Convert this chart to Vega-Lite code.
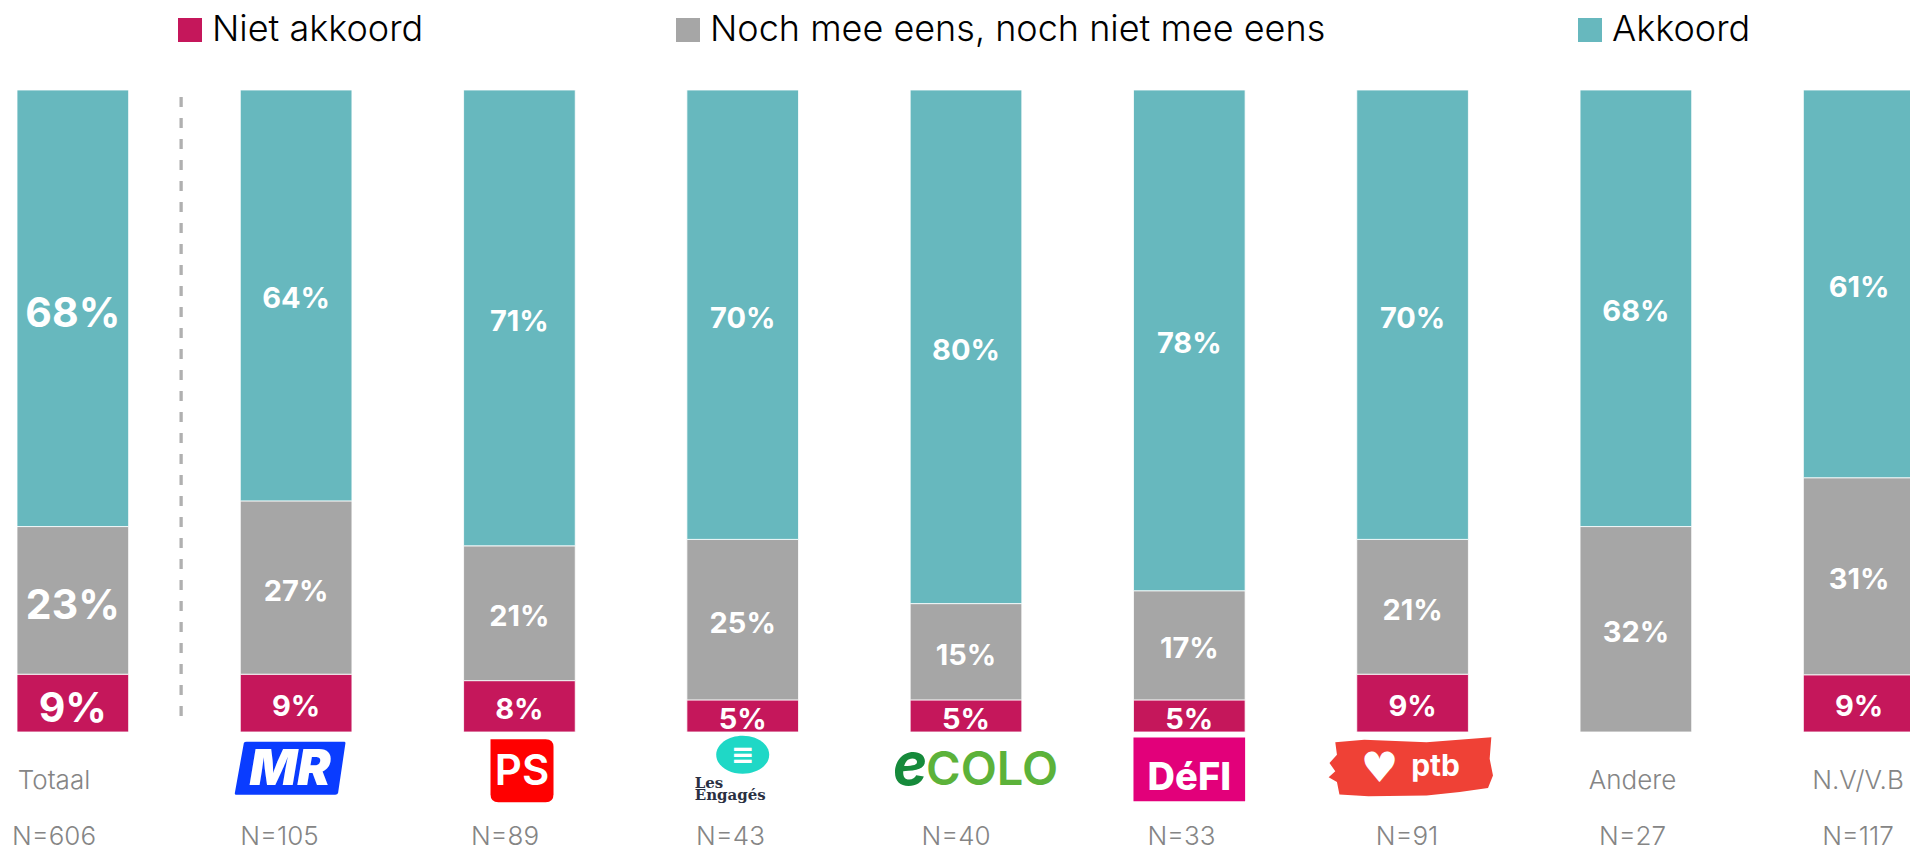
{
  "$schema": "https://vega.github.io/schema/vega-lite/v6.json",
  "width": 1910,
  "height": 848,
  "autosize": {"type": "none"},
  "padding": 0,
  "background": "white",
  "config": {"view": {"stroke": null}},
  "datasets": {
    "seg": [
      {"group": "Totaal", "cat": "Niet akkoord", "rank": 1, "value": 0.09},
      {"group": "Totaal", "cat": "Noch mee eens, noch niet mee eens", "rank": 2, "value": 0.23},
      {"group": "Totaal", "cat": "Akkoord", "rank": 3, "value": 0.68},
      {"group": "MR", "cat": "Niet akkoord", "rank": 1, "value": 0.09},
      {"group": "MR", "cat": "Noch mee eens, noch niet mee eens", "rank": 2, "value": 0.27},
      {"group": "MR", "cat": "Akkoord", "rank": 3, "value": 0.64},
      {"group": "PS", "cat": "Niet akkoord", "rank": 1, "value": 0.08},
      {"group": "PS", "cat": "Noch mee eens, noch niet mee eens", "rank": 2, "value": 0.21},
      {"group": "PS", "cat": "Akkoord", "rank": 3, "value": 0.71},
      {"group": "Les Engagés", "cat": "Niet akkoord", "rank": 1, "value": 0.05},
      {"group": "Les Engagés", "cat": "Noch mee eens, noch niet mee eens", "rank": 2, "value": 0.25},
      {"group": "Les Engagés", "cat": "Akkoord", "rank": 3, "value": 0.70},
      {"group": "Ecolo", "cat": "Niet akkoord", "rank": 1, "value": 0.05},
      {"group": "Ecolo", "cat": "Noch mee eens, noch niet mee eens", "rank": 2, "value": 0.15},
      {"group": "Ecolo", "cat": "Akkoord", "rank": 3, "value": 0.80},
      {"group": "DéFI", "cat": "Niet akkoord", "rank": 1, "value": 0.05},
      {"group": "DéFI", "cat": "Noch mee eens, noch niet mee eens", "rank": 2, "value": 0.17},
      {"group": "DéFI", "cat": "Akkoord", "rank": 3, "value": 0.78},
      {"group": "PTB", "cat": "Niet akkoord", "rank": 1, "value": 0.09},
      {"group": "PTB", "cat": "Noch mee eens, noch niet mee eens", "rank": 2, "value": 0.21},
      {"group": "PTB", "cat": "Akkoord", "rank": 3, "value": 0.70},
      {"group": "Andere", "cat": "Noch mee eens, noch niet mee eens", "rank": 2, "value": 0.32},
      {"group": "Andere", "cat": "Akkoord", "rank": 3, "value": 0.68},
      {"group": "N.V/V.B", "cat": "Niet akkoord", "rank": 1, "value": 0.09},
      {"group": "N.V/V.B", "cat": "Noch mee eens, noch niet mee eens", "rank": 2, "value": 0.31},
      {"group": "N.V/V.B", "cat": "Akkoord", "rank": 3, "value": 0.61}
    ],
    "groups": [
      {"group": "Totaal", "name": "Totaal", "nlabel": "N=606"},
      {"group": "MR", "nlabel": "N=105"},
      {"group": "PS", "nlabel": "N=89"},
      {"group": "Les Engagés", "nlabel": "N=43"},
      {"group": "Ecolo", "nlabel": "N=40"},
      {"group": "DéFI", "nlabel": "N=33"},
      {"group": "PTB", "nlabel": "N=91"},
      {"group": "Andere", "name": "Andere", "nlabel": "N=27"},
      {"group": "N.V/V.B", "name": "N.V/V.B", "nlabel": "N=117"}
    ]
  },
  "resolve": {"scale": {"x": "independent"}},
  "layer": [
    {
      "layer": [
        {
          "data": {"name": "seg"},
          "mark": {"type": "bar", "stroke": "white", "strokeWidth": 0.8},
          "encoding": {
            "x": {"field": "group", "type": "nominal", "axis": null,
                  "scale": {"domain": ["Totaal", "MR", "PS", "Les Engagés", "Ecolo", "DéFI", "PTB", "Andere", "N.V/V.B"], "range": [17, 1915], "paddingInner": 0.5, "paddingOuter": 0}},
            "y": {"field": "value", "type": "quantitative", "stack": "normalize", "axis": null,
                  "scale": {"domain": [-0.1807, 1.1402], "nice": false, "zero": false}},
            "order": {"field": "rank", "type": "quantitative"},
            "color": {"field": "cat", "type": "nominal",
                      "scale": {"domain": ["Niet akkoord", "Noch mee eens, noch niet mee eens", "Akkoord"], "range": ["#c5175b", "#a6a6a6", "#67b8be"]},
                      "legend": {"orient": "none", "legendX": 172, "legendY": 12, "direction": "horizontal", "title": null,
                                 "symbolType": "square", "symbolSize": 576, "symbolStrokeWidth": 0, "symbolOpacity": 1,
                                 "labelFontSize": 36, "labelFont": "Inter", "labelFontWeight": 300, "labelColor": "#000000",
                                 "labelOffset": 4, "columnPadding": 246, "labelLimit": 1000}}
          }
        },
        {
          "data": {"name": "seg"},
          "transform": [{"filter": "datum.group != 'Totaal'"}],
          "mark": {"type": "text", "font": "Inter", "fontWeight": 700, "fontSize": 29, "fill": "white", "baseline": "middle", "align": "center", "dy": 4},
          "encoding": {
            "x": {"field": "group", "type": "nominal", "axis": null,
                  "scale": {"domain": ["Totaal", "MR", "PS", "Les Engagés", "Ecolo", "DéFI", "PTB", "Andere", "N.V/V.B"], "range": [17, 1915], "paddingInner": 0.5, "paddingOuter": 0}},
            "y": {"field": "value", "type": "quantitative", "stack": "normalize", "bandPosition": 0.5, "axis": null,
                  "scale": {"domain": [-0.1807, 1.1402], "nice": false, "zero": false}},
            "order": {"field": "rank", "type": "quantitative"},
            "detail": {"field": "cat", "type": "nominal"},
            "text": {"field": "value", "type": "quantitative", "format": ".0%"}
          }
        },
        {
          "data": {"name": "seg"},
          "transform": [{"filter": "datum.group == 'Totaal'"}],
          "mark": {"type": "text", "font": "Inter", "fontWeight": 700, "fontSize": 41, "fill": "white", "baseline": "middle", "align": "center", "dy": 7},
          "encoding": {
            "x": {"field": "group", "type": "nominal", "axis": null,
                  "scale": {"domain": ["Totaal", "MR", "PS", "Les Engagés", "Ecolo", "DéFI", "PTB", "Andere", "N.V/V.B"], "range": [17, 1915], "paddingInner": 0.5, "paddingOuter": 0}},
            "y": {"field": "value", "type": "quantitative", "stack": "normalize", "bandPosition": 0.5, "axis": null,
                  "scale": {"domain": [-0.1807, 1.1402], "nice": false, "zero": false}},
            "order": {"field": "rank", "type": "quantitative"},
            "detail": {"field": "cat", "type": "nominal"},
            "text": {"field": "value", "type": "quantitative", "format": ".0%"}
          }
        },
        {
          "data": {"name": "groups"},
          "transform": [{"filter": "datum.group == 'Totaal'"}],
          "mark": {"type": "rule", "stroke": "#b0b0b0", "strokeWidth": 3.3, "strokeDash": [10, 11]},
          "encoding": {
            "x": {"field": "group", "type": "nominal", "bandPosition": 1.47, "axis": null,
                  "scale": {"domain": ["Totaal", "MR", "PS", "Les Engagés", "Ecolo", "DéFI", "PTB", "Andere", "N.V/V.B"], "range": [17, 1915], "paddingInner": 0.5, "paddingOuter": 0}},
            "y": {"datum": 0.989, "type": "quantitative", "axis": null, "scale": {"domain": [-0.1807, 1.1402], "nice": false, "zero": false}},
            "y2": {"datum": 0.008}
          }
        },
        {
          "data": {"name": "groups"},
          "transform": [{"filter": "datum.group == 'MR'"}],
          "mark": {"type": "point", "filled": true, "fill": "#0a3cff", "opacity": 1, "strokeWidth": 0, "size": 12432, "xOffset": -6,
                   "shape": "M -0.83 -0.46 Q -0.82 -0.48 -0.78 -0.48 L 0.97 -0.48 Q 1 -0.48 0.99 -0.44 L 0.86 0.44 Q 0.85 0.47 0.81 0.47 L -0.97 0.47 Q -1 0.47 -0.99 0.43 Z"},
          "encoding": {
            "x": {"field": "group", "type": "nominal", "axis": null,
                  "scale": {"domain": ["Totaal", "MR", "PS", "Les Engagés", "Ecolo", "DéFI", "PTB", "Andere", "N.V/V.B"], "range": [17, 1915], "paddingInner": 0.5, "paddingOuter": 0}},
            "y": {"datum": -0.057, "type": "quantitative", "axis": null, "scale": {"domain": [-0.1807, 1.1402], "nice": false, "zero": false}}
          }
        },
        {
          "data": {"name": "groups"},
          "transform": [{"filter": "datum.group == 'MR'"}],
          "mark": {"type": "text", "text": "MR", "font": "Inter", "fontWeight": 900, "fontStyle": "italic", "fontSize": 50, "fill": "white", "baseline": "middle", "align": "center", "dx": -6, "dy": 1},
          "encoding": {
            "x": {"field": "group", "type": "nominal", "axis": null,
                  "scale": {"domain": ["Totaal", "MR", "PS", "Les Engagés", "Ecolo", "DéFI", "PTB", "Andere", "N.V/V.B"], "range": [17, 1915], "paddingInner": 0.5, "paddingOuter": 0}},
            "y": {"datum": -0.057, "type": "quantitative", "axis": null, "scale": {"domain": [-0.1807, 1.1402], "nice": false, "zero": false}}
          }
        },
        {
          "data": {"name": "groups"},
          "transform": [{"filter": "datum.group == 'PS'"}],
          "mark": {"type": "point", "filled": true, "fill": "#ff0000", "opacity": 1, "strokeWidth": 0, "size": 3969, "xOffset": 2.6,
                   "shape": "M -1 -1 L 0.75 -1 Q 1 -1 1 -0.75 L 1 0.75 Q 1 1 0.75 1 L -0.75 1 Q -1 1 -1 0.75 Z"},
          "encoding": {
            "x": {"field": "group", "type": "nominal", "axis": null,
                  "scale": {"domain": ["Totaal", "MR", "PS", "Les Engagés", "Ecolo", "DéFI", "PTB", "Andere", "N.V/V.B"], "range": [17, 1915], "paddingInner": 0.5, "paddingOuter": 0}},
            "y": {"datum": -0.0603, "type": "quantitative", "axis": null, "scale": {"domain": [-0.1807, 1.1402], "nice": false, "zero": false}}
          }
        },
        {
          "data": {"name": "groups"},
          "transform": [{"filter": "datum.group == 'PS'"}],
          "mark": {"type": "text", "text": "PS", "font": "Inter", "fontWeight": 600, "fontSize": 42, "fill": "white", "baseline": "middle", "align": "center", "dx": 2.6, "dy": 1},
          "encoding": {
            "x": {"field": "group", "type": "nominal", "axis": null,
                  "scale": {"domain": ["Totaal", "MR", "PS", "Les Engagés", "Ecolo", "DéFI", "PTB", "Andere", "N.V/V.B"], "range": [17, 1915], "paddingInner": 0.5, "paddingOuter": 0}},
            "y": {"datum": -0.0603, "type": "quantitative", "axis": null, "scale": {"domain": [-0.1807, 1.1402], "nice": false, "zero": false}}
          }
        },
        {
          "data": {"name": "groups"},
          "transform": [{"filter": "datum.group == 'Les Engagés'"}],
          "mark": {"type": "point", "filled": true, "fill": "#1fd8c6", "opacity": 1, "strokeWidth": 0, "size": 2809,
                   "shape": "M -1 0 C -1 -0.4 -0.55 -0.72 0 -0.72 C 0.55 -0.72 1 -0.4 1 0 C 1 0.4 0.55 0.72 0 0.72 C -0.55 0.72 -1 0.4 -1 0 Z"},
          "encoding": {
            "x": {"field": "group", "type": "nominal", "axis": null,
                  "scale": {"domain": ["Totaal", "MR", "PS", "Les Engagés", "Ecolo", "DéFI", "PTB", "Andere", "N.V/V.B"], "range": [17, 1915], "paddingInner": 0.5, "paddingOuter": 0}},
            "y": {"datum": -0.0354, "type": "quantitative", "axis": null, "scale": {"domain": [-0.1807, 1.1402], "nice": false, "zero": false}}
          }
        },
        {
          "data": {"name": "groups"},
          "transform": [{"filter": "datum.group == 'Les Engagés'"}],
          "mark": {"type": "text", "text": "≡", "font": "DejaVu Sans", "fontWeight": "bold", "fontSize": 28, "fill": "white", "baseline": "middle", "align": "center"},
          "encoding": {
            "x": {"field": "group", "type": "nominal", "axis": null,
                  "scale": {"domain": ["Totaal", "MR", "PS", "Les Engagés", "Ecolo", "DéFI", "PTB", "Andere", "N.V/V.B"], "range": [17, 1915], "paddingInner": 0.5, "paddingOuter": 0}},
            "y": {"datum": -0.038, "type": "quantitative", "axis": null, "scale": {"domain": [-0.1807, 1.1402], "nice": false, "zero": false}}
          }
        },
        {
          "data": {"name": "groups"},
          "transform": [{"filter": "datum.group == 'Les Engagés'"}],
          "mark": {"type": "text", "text": ["Les", "Engagés"], "font": "DejaVu Serif", "fontWeight": "bold", "fontSize": 15, "lineHeight": 12, "fill": "#2a3042", "baseline": "top", "align": "left", "dx": -48},
          "encoding": {
            "x": {"field": "group", "type": "nominal", "axis": null,
                  "scale": {"domain": ["Totaal", "MR", "PS", "Les Engagés", "Ecolo", "DéFI", "PTB", "Andere", "N.V/V.B"], "range": [17, 1915], "paddingInner": 0.5, "paddingOuter": 0}},
            "y": {"datum": -0.068, "type": "quantitative", "axis": null, "scale": {"domain": [-0.1807, 1.1402], "nice": false, "zero": false}}
          }
        },
        {
          "data": {"name": "groups"},
          "transform": [{"filter": "datum.group == 'Ecolo'"}],
          "mark": {"type": "text", "text": "e", "font": "Inter", "fontWeight": 700, "fontStyle": "italic", "fontSize": 58, "fill": "#168a3b", "baseline": "alphabetic", "align": "left", "dx": -73},
          "encoding": {
            "x": {"field": "group", "type": "nominal", "axis": null,
                  "scale": {"domain": ["Totaal", "MR", "PS", "Les Engagés", "Ecolo", "DéFI", "PTB", "Andere", "N.V/V.B"], "range": [17, 1915], "paddingInner": 0.5, "paddingOuter": 0}},
            "y": {"datum": -0.082, "type": "quantitative", "axis": null, "scale": {"domain": [-0.1807, 1.1402], "nice": false, "zero": false}}
          }
        },
        {
          "data": {"name": "groups"},
          "transform": [{"filter": "datum.group == 'Ecolo'"}],
          "mark": {"type": "text", "text": "COLO", "font": "Inter", "fontWeight": 600, "fontSize": 47, "fill": "#5cb23a", "baseline": "alphabetic", "align": "left", "dx": -40},
          "encoding": {
            "x": {"field": "group", "type": "nominal", "axis": null,
                  "scale": {"domain": ["Totaal", "MR", "PS", "Les Engagés", "Ecolo", "DéFI", "PTB", "Andere", "N.V/V.B"], "range": [17, 1915], "paddingInner": 0.5, "paddingOuter": 0}},
            "y": {"datum": -0.082, "type": "quantitative", "axis": null, "scale": {"domain": [-0.1807, 1.1402], "nice": false, "zero": false}}
          }
        },
        {
          "data": {"name": "groups"},
          "transform": [{"filter": "datum.group == 'DéFI'"}],
          "mark": {"type": "bar", "fill": "#e2007a"},
          "encoding": {
            "x": {"field": "group", "type": "nominal", "axis": null,
                  "scale": {"domain": ["Totaal", "MR", "PS", "Les Engagés", "Ecolo", "DéFI", "PTB", "Andere", "N.V/V.B"], "range": [17, 1915], "paddingInner": 0.5, "paddingOuter": 0}},
            "y": {"datum": -0.0084, "type": "quantitative", "axis": null, "scale": {"domain": [-0.1807, 1.1402], "nice": false, "zero": false}},
            "y2": {"datum": -0.108}
          }
        },
        {
          "data": {"name": "groups"},
          "transform": [{"filter": "datum.group == 'DéFI'"}],
          "mark": {"type": "text", "text": "DéFI", "font": "Inter", "fontWeight": 800, "fontSize": 38, "fill": "white", "baseline": "alphabetic", "align": "center"},
          "encoding": {
            "x": {"field": "group", "type": "nominal", "axis": null,
                  "scale": {"domain": ["Totaal", "MR", "PS", "Les Engagés", "Ecolo", "DéFI", "PTB", "Andere", "N.V/V.B"], "range": [17, 1915], "paddingInner": 0.5, "paddingOuter": 0}},
            "y": {"datum": -0.0896, "type": "quantitative", "axis": null, "scale": {"domain": [-0.1807, 1.1402], "nice": false, "zero": false}}
          }
        },
        {
          "data": {"name": "groups"},
          "transform": [{"filter": "datum.group == 'PTB'"}],
          "mark": {"type": "point", "filled": true, "fill": "#ef4136", "opacity": 1, "strokeWidth": 0, "size": 27556, "xOffset": -2.6,
                   "shape": "M -0.9 -0.3 L -0.55 -0.33 L 0.2 -0.3 L 0.98 -0.36 L 0.96 -0.1 L 1 0.1 L 0.94 0.25 L 0.6 0.3 L 0.2 0.34 L -0.5 0.35 L -0.85 0.33 L -0.88 0.18 L -0.98 0.12 L -0.9 0.05 L -0.97 -0.05 L -0.88 -0.15 Z"},
          "encoding": {
            "x": {"field": "group", "type": "nominal", "axis": null,
                  "scale": {"domain": ["Totaal", "MR", "PS", "Les Engagés", "Ecolo", "DéFI", "PTB", "Andere", "N.V/V.B"], "range": [17, 1915], "paddingInner": 0.5, "paddingOuter": 0}},
            "y": {"datum": -0.0548, "type": "quantitative", "axis": null, "scale": {"domain": [-0.1807, 1.1402], "nice": false, "zero": false}}
          }
        },
        {
          "data": {"name": "groups"},
          "transform": [{"filter": "datum.group == 'PTB'"}],
          "mark": {"type": "text", "text": "♥", "font": "DejaVu Sans", "fontSize": 42, "fill": "white", "baseline": "middle", "align": "center", "dx": -33},
          "encoding": {
            "x": {"field": "group", "type": "nominal", "axis": null,
                  "scale": {"domain": ["Totaal", "MR", "PS", "Les Engagés", "Ecolo", "DéFI", "PTB", "Andere", "N.V/V.B"], "range": [17, 1915], "paddingInner": 0.5, "paddingOuter": 0}},
            "y": {"datum": -0.057, "type": "quantitative", "axis": null, "scale": {"domain": [-0.1807, 1.1402], "nice": false, "zero": false}}
          }
        },
        {
          "data": {"name": "groups"},
          "transform": [{"filter": "datum.group == 'PTB'"}],
          "mark": {"type": "text", "text": "ptb", "font": "Inter", "fontWeight": 700, "fontSize": 30, "fill": "white", "baseline": "alphabetic", "align": "center", "dx": 23},
          "encoding": {
            "x": {"field": "group", "type": "nominal", "axis": null,
                  "scale": {"domain": ["Totaal", "MR", "PS", "Les Engagés", "Ecolo", "DéFI", "PTB", "Andere", "N.V/V.B"], "range": [17, 1915], "paddingInner": 0.5, "paddingOuter": 0}},
            "y": {"datum": -0.068, "type": "quantitative", "axis": null, "scale": {"domain": [-0.1807, 1.1402], "nice": false, "zero": false}}
          }
        }
      ]
    },
    {
      "layer": [
        {
          "data": {"name": "groups"},
          "transform": [{"filter": "isValid(datum.name)"}],
          "mark": {"type": "text", "font": "Inter", "fontWeight": 300, "fontSize": 26, "fill": "#858585", "baseline": "alphabetic", "align": "center"},
          "encoding": {
            "x": {"field": "group", "type": "nominal", "axis": null,
                  "scale": {"type": "point", "domain": ["Totaal", "MR", "PS", "Les Engagés", "Ecolo", "DéFI", "PTB", "Andere", "N.V/V.B"], "range": [54, 1858], "padding": 0}},
            "y": {"datum": -0.0885, "type": "quantitative", "axis": null, "scale": {"domain": [-0.1807, 1.1402], "nice": false, "zero": false}},
            "text": {"field": "name", "type": "nominal"}
          }
        },
        {
          "data": {"name": "groups"},
          "mark": {"type": "text", "font": "Inter", "fontWeight": 300, "fontSize": 26, "fill": "#858585", "baseline": "alphabetic", "align": "center"},
          "encoding": {
            "x": {"field": "group", "type": "nominal", "axis": null,
                  "scale": {"type": "point", "domain": ["Totaal", "MR", "PS", "Les Engagés", "Ecolo", "DéFI", "PTB", "Andere", "N.V/V.B"], "range": [54, 1858], "padding": 0}},
            "y": {"datum": -0.1762, "type": "quantitative", "axis": null, "scale": {"domain": [-0.1807, 1.1402], "nice": false, "zero": false}},
            "text": {"field": "nlabel", "type": "nominal"}
          }
        }
      ]
    }
  ]
}
